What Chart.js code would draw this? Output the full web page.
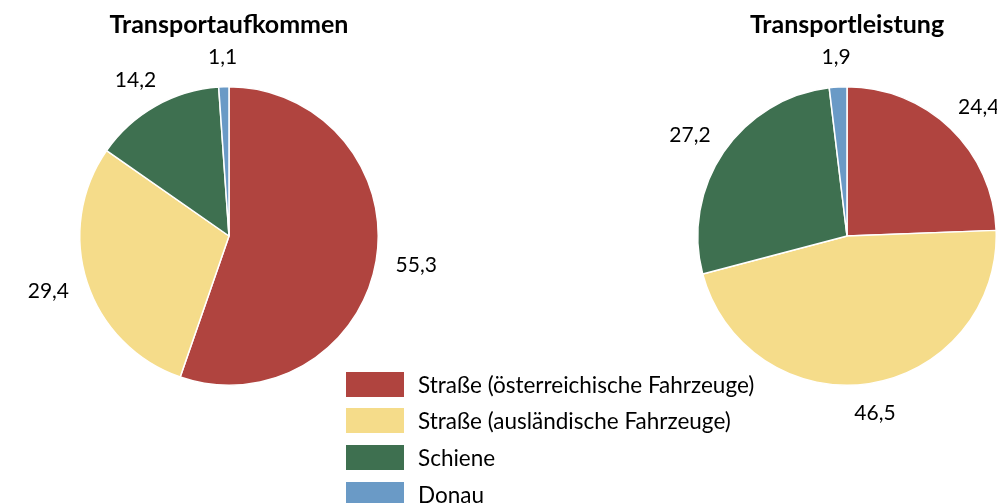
<!DOCTYPE html>
<html>
<head>
<meta charset="utf-8">
<script src="https://cdn.jsdelivr.net/npm/chart.js@4"></script>
<style>
    html, body { margin: 0; padding: 0; background: #fff; }
    body { width: 997px; height: 503px; position: relative; overflow: hidden; font-family: Lato, "Open Sans", sans-serif; }
    #leftWrap { position: absolute; left: 0; top: 0; width: 460px; height: 503px; }
    #rightWrap { position: absolute; left: 520px; top: 0; width: 477px; height: 503px; }
    #legend { position: absolute; left: 346px; top: 366px; }
    .legend-row { display: flex; align-items: center; height: 36.6px; }
    .legend-box { width: 58px; height: 25px; margin-right: 14px; }
    .legend-text { font-size: 22.5px; color: #000; white-space: nowrap; }
</style>
</head>
<body>
<div id="leftWrap"><canvas id="chartLeft"></canvas></div>
<div id="rightWrap"><canvas id="chartRight"></canvas></div>
<div id="legend"></div>

<script>
// Data (percent shares)
const categories = [
    'Straße (österreichische Fahrzeuge)',
    'Straße (ausländische Fahrzeuge)',
    'Schiene',
    'Donau'
];
const aufkommenValues = [55.3, 29.4, 14.2, 1.1];
const leistungValues = [24.4, 46.5, 27.2, 1.9];
const chartTitles = ['Transportaufkommen', 'Transportleistung'];

const colors = ['#B0443F', '#F5DC8A', '#3E7050', '#6A9AC6'];

// draws the title + outside value labels (comma decimals)
const outsideLabels = {
    id: 'outsideLabels',
    afterDatasetsDraw(chart, args, opts) {
        const { ctx } = chart;
        const meta = chart.getDatasetMeta(0);
        const values = chart.data.datasets[0].data;

        ctx.save();
        ctx.fillStyle = '#000';
        ctx.textAlign = 'center';
        ctx.textBaseline = 'middle';

        // title
        const first = meta.data[0];
        ctx.font = 'bold 25px Lato';
        ctx.fillText(opts.title, first.x, 25);

        ctx.font = '21px Lato';
        meta.data.forEach((arc, i) => {
            const p = arc.getProps(['x', 'y', 'startAngle', 'endAngle', 'outerRadius'], true);
            const mid = (p.startAngle + p.endAngle) / 2;
            const dx = Math.cos(mid), dy = Math.sin(mid);
            const text = values[i].toFixed(1).replace('.', ',');
            const w = ctx.measureText(text).width;
            const r = p.outerRadius + 20;
            const tx = p.x + dx * r + dx * w / 2;
            const ty = p.y + dy * r + dy * 10;
            ctx.fillText(text, tx, ty);
        });
        ctx.restore();
    }
};

function makePie(canvasId, values, title, padding) {
    const ctx = document.getElementById(canvasId);
    return new Chart(ctx, {
        type: 'pie',
        data: {
            labels: categories,
            datasets: [{
                data: values,
                backgroundColor: colors,
                borderColor: '#fff',
                borderWidth: 1.5
            }]
        },
        options: {
            responsive: true,
            maintainAspectRatio: false,
            animation: false,
            layout: { padding: padding },
            plugins: {
                legend: { display: false },
                tooltip: { enabled: false },
                outsideLabels: { title: title }
            }
        },
        plugins: [outsideLabels]
    });
}

makePie('chartLeft', aufkommenValues, chartTitles[0], { left: 79, right: 81, top: 86, bottom: 117 });
makePie('chartRight', leistungValues, chartTitles[1], { left: 177, right: 0, top: 86, bottom: 117 });

// HTML legend
const legend = document.getElementById('legend');
categories.forEach((name, i) => {
    const row = document.createElement('div');
    row.className = 'legend-row';
    row.innerHTML = `<div class="legend-box" style="background:${colors[i]}"></div><span class="legend-text">${name}</span>`;
    legend.appendChild(row);
});
</script>
</body>
</html>
